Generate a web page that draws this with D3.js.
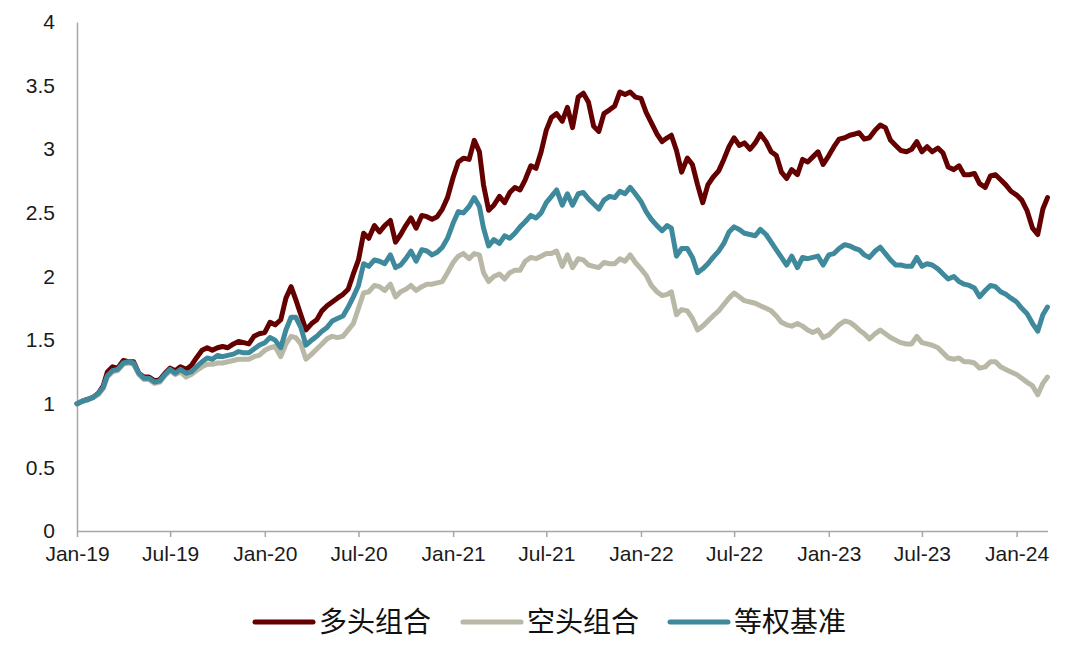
<!DOCTYPE html>
<html><head><meta charset="utf-8">
<script src="https://cdn.jsdelivr.net/npm/d3@7"></script>
<style>body{margin:0;background:#fff}svg{display:block}</style>
</head><body><svg id="c" width="1080" height="653"></svg>
<script>
const dates = [
"2019-01-01","2019-01-11","2019-01-21","2019-02-01","2019-02-11","2019-02-21","2019-03-01","2019-03-11","2019-03-21","2019-04-01","2019-04-11","2019-04-21",
"2019-05-01","2019-05-11","2019-05-21","2019-06-01","2019-06-11","2019-06-21","2019-07-01","2019-07-11","2019-07-21","2019-08-01","2019-08-11","2019-08-21",
"2019-09-01","2019-09-11","2019-09-21","2019-10-01","2019-10-11","2019-10-21","2019-11-01","2019-11-11","2019-11-21","2019-12-01","2019-12-11","2019-12-21",
"2020-01-01","2020-01-11","2020-01-21","2020-02-01","2020-02-11","2020-02-21","2020-03-01","2020-03-11","2020-03-21","2020-04-01","2020-04-11","2020-04-21",
"2020-05-01","2020-05-11","2020-05-21","2020-06-01","2020-06-11","2020-06-21","2020-07-01","2020-07-11","2020-07-21","2020-08-01","2020-08-11","2020-08-21",
"2020-09-01","2020-09-11","2020-09-21","2020-10-01","2020-10-11","2020-10-21","2020-11-01","2020-11-11","2020-11-21","2020-12-01","2020-12-11","2020-12-21",
"2021-01-01","2021-01-11","2021-01-21","2021-02-01","2021-02-11","2021-02-21","2021-03-01","2021-03-11","2021-03-21","2021-04-01","2021-04-11","2021-04-21",
"2021-05-01","2021-05-11","2021-05-21","2021-06-01","2021-06-11","2021-06-21","2021-07-01","2021-07-11","2021-07-21","2021-08-01","2021-08-11","2021-08-21",
"2021-09-01","2021-09-11","2021-09-21","2021-10-01","2021-10-11","2021-10-21","2021-11-01","2021-11-11","2021-11-21","2021-12-01","2021-12-11","2021-12-21",
"2022-01-01","2022-01-11","2022-01-21","2022-02-01","2022-02-11","2022-02-21","2022-03-01","2022-03-11","2022-03-21","2022-04-01","2022-04-11","2022-04-21",
"2022-05-01","2022-05-11","2022-05-21","2022-06-01","2022-06-11","2022-06-21","2022-07-01","2022-07-11","2022-07-21","2022-08-01","2022-08-11","2022-08-21",
"2022-09-01","2022-09-11","2022-09-21","2022-10-01","2022-10-11","2022-10-21","2022-11-01","2022-11-11","2022-11-21","2022-12-01","2022-12-11","2022-12-21",
"2023-01-01","2023-01-11","2023-01-21","2023-02-01","2023-02-11","2023-02-21","2023-03-01","2023-03-11","2023-03-21","2023-04-01","2023-04-11","2023-04-21",
"2023-05-01","2023-05-11","2023-05-21","2023-06-01","2023-06-11","2023-06-21","2023-07-01","2023-07-11","2023-07-21","2023-08-01","2023-08-11","2023-08-21",
"2023-09-01","2023-09-11","2023-09-21","2023-10-01","2023-10-11","2023-10-21","2023-11-01","2023-11-11","2023-11-21","2023-12-01","2023-12-11","2023-12-21",
"2024-01-01","2024-01-11","2024-01-21","2024-02-01","2024-02-11","2024-02-21","2024-03-01"
];

// 多头组合
const longValues = [
1.00,1.02,1.035, 1.05,1.08,1.14, 1.25,1.29,1.28, 1.34,1.33,1.33,
1.24,1.21,1.21, 1.18,1.19,1.24, 1.28,1.26,1.29, 1.27,1.30,1.36,
1.42,1.44,1.42, 1.44,1.45,1.44, 1.47,1.49,1.48, 1.47,1.53,1.55,
1.56,1.64,1.62, 1.66,1.83,1.92, 1.82,1.70,1.58, 1.63,1.66,1.73,
1.77,1.80,1.83, 1.86,1.90,2.02, 2.13,2.34,2.30, 2.40,2.35,2.40,
2.44,2.27,2.33, 2.40,2.46,2.38, 2.48,2.47,2.45, 2.47,2.53,2.62,
2.78,2.90,2.93, 2.92,3.07,2.98, 2.72,2.52,2.56, 2.63,2.58,2.66,
2.70,2.68,2.76, 2.87,2.85,2.98, 3.15,3.25,3.28, 3.22,3.33,3.17,
3.41,3.44,3.37, 3.18,3.14,3.28, 3.31,3.34,3.45, 3.43,3.45,3.41,
3.40,3.29,3.21, 3.12,3.06,3.09, 3.11,2.99,2.82, 2.93,2.88,2.72,
2.58,2.72,2.78, 2.83,2.92,3.02, 3.09,3.03,3.05, 3.00,3.05,3.12,
3.06,2.98,2.95, 2.82,2.77,2.84, 2.80,2.92,2.90, 2.94,2.98,2.88,
2.95,3.02,3.08, 3.09,3.11,3.12, 3.13,3.08,3.09, 3.15,3.19,3.17,
3.07,3.03,2.99, 2.98,3.00,3.06, 2.98,3.02,2.98, 3.01,2.97,2.86,
2.84,2.87,2.80, 2.80,2.81,2.73, 2.70,2.79,2.80, 2.76,2.72,2.67,
2.64,2.60,2.52, 2.38,2.33,2.53, 2.62
];

// 空头组合
const shortValues = [
1.00,1.02,1.03, 1.05,1.07,1.12, 1.21,1.25,1.26, 1.31,1.32,1.31,
1.23,1.19,1.19, 1.16,1.17,1.22, 1.26,1.23,1.25, 1.21,1.23,1.26,
1.29,1.31,1.31, 1.32,1.32,1.33, 1.34,1.35,1.35, 1.35,1.37,1.38,
1.42,1.44,1.45, 1.37,1.47,1.53, 1.52,1.47,1.35, 1.39,1.43,1.47,
1.51,1.53,1.52, 1.53,1.58,1.63, 1.75,1.87,1.88, 1.93,1.92,1.89,
1.94,1.84,1.88, 1.90,1.93,1.89, 1.92,1.94,1.94, 1.95,1.96,2.03,
2.11,2.16,2.18, 2.14,2.18,2.17, 2.03,1.96,2.00, 2.02,1.98,2.03,
2.05,2.05,2.12, 2.15,2.14,2.16, 2.18,2.18,2.20, 2.08,2.17,2.07,
2.14,2.13,2.09, 2.08,2.07,2.11, 2.10,2.10,2.14, 2.12,2.17,2.11,
2.06,2.01,1.93, 1.88,1.85,1.86, 1.88,1.70,1.74, 1.73,1.67,1.58,
1.61,1.65,1.69, 1.73,1.78,1.83, 1.87,1.84,1.81, 1.80,1.79,1.77,
1.75,1.73,1.69, 1.64,1.62,1.61, 1.63,1.61,1.58, 1.56,1.58,1.52,
1.54,1.58,1.62, 1.65,1.64,1.61, 1.58,1.55,1.51, 1.55,1.58,1.55,
1.52,1.50,1.48, 1.47,1.47,1.53, 1.48,1.47,1.46, 1.44,1.40,1.36,
1.35,1.36,1.33, 1.33,1.32,1.28, 1.29,1.33,1.33, 1.29,1.27,1.25,
1.23,1.20,1.17, 1.14,1.07,1.16, 1.21
];

// 等权基准
const benchValues = [
1.00,1.02,1.03, 1.05,1.08,1.13, 1.22,1.26,1.27, 1.32,1.33,1.32,
1.24,1.20,1.20, 1.17,1.18,1.23, 1.27,1.24,1.27, 1.24,1.25,1.29,
1.33,1.36,1.35, 1.38,1.37,1.38, 1.39,1.41,1.40, 1.40,1.43,1.46,
1.48,1.52,1.50, 1.44,1.58,1.68, 1.68,1.60,1.46, 1.50,1.53,1.57,
1.60,1.65,1.67, 1.69,1.76,1.84, 1.93,2.10,2.08, 2.13,2.12,2.10,
2.17,2.07,2.09, 2.14,2.20,2.12, 2.21,2.20,2.17, 2.19,2.23,2.30,
2.42,2.51,2.50, 2.55,2.62,2.55, 2.38,2.24,2.29, 2.26,2.32,2.30,
2.34,2.39,2.43, 2.48,2.46,2.50, 2.58,2.63,2.68, 2.56,2.65,2.56,
2.65,2.66,2.61, 2.57,2.53,2.60, 2.63,2.62,2.67, 2.65,2.70,2.65,
2.59,2.51,2.45, 2.40,2.36,2.40, 2.38,2.16,2.22, 2.22,2.15,2.03,
2.06,2.10,2.15, 2.20,2.26,2.35, 2.39,2.37,2.34, 2.33,2.32,2.37,
2.33,2.27,2.21, 2.15,2.09,2.16, 2.07,2.15,2.14, 2.15,2.16,2.09,
2.17,2.18,2.22, 2.25,2.24,2.22, 2.21,2.17,2.15, 2.20,2.23,2.18,
2.13,2.09,2.09, 2.08,2.08,2.15, 2.08,2.10,2.09, 2.06,2.02,1.98,
2.00,1.96,1.94, 1.93,1.91,1.84, 1.89,1.93,1.92, 1.88,1.86,1.83,
1.80,1.75,1.71, 1.63,1.57,1.70, 1.76
];

const seriesNames = ["多头组合", "空头组合", "等权基准"];
const seriesColors = ["#650000", "#b9b8a7", "#3e8a9c"];
const yTicks = [0, 0.5, 1, 1.5, 2, 2.5, 3, 3.5, 4];
const xTickLabels = ["Jan-19","Jul-19","Jan-20","Jul-20","Jan-21","Jul-21","Jan-22","Jul-22","Jan-23","Jul-23","Jan-24"];

const parse = d3.timeParse("%Y-%m-%d");
const D = dates.map(parse);
const svg = d3.select("#c");
svg.append("rect").attr("width",1080).attr("height",653).attr("fill","#fff");

const x = d3.scaleTime().domain([parse("2019-01-01"), parse("2024-03-01")]).range([77, 1047.5]);
const y = d3.scaleLinear().domain([0, 4]).range([531, 22]);

const font = "'Liberation Sans', Arial, sans-serif";

// Y axis
const yAxis = svg.append("g").attr("transform","translate(77,0)")
  .call(d3.axisLeft(y).tickValues(yTicks).tickSize(0).tickPadding(22).tickFormat(d3.format("")));
yAxis.select(".domain").attr("stroke","#a6a6a6").attr("stroke-width",1.5);
yAxis.selectAll("text").attr("font-family",font).attr("font-size",21).attr("fill","#1a1a1a");

// X axis
const xTickDates = xTickLabels.map(s => d3.timeParse("%b-%y")(s));
const xAxis = svg.append("g").attr("transform","translate(0,531)")
  .call(d3.axisBottom(x).tickValues(xTickDates).tickSize(6).tickSizeOuter(0).tickPadding(9)
    .tickFormat((d,i) => xTickLabels[i]));
xAxis.select(".domain").attr("stroke","#a6a6a6").attr("stroke-width",1.5);
xAxis.selectAll(".tick line").attr("stroke","#a6a6a6").attr("stroke-width",1.5);
xAxis.selectAll("text").attr("font-family",font).attr("font-size",21).attr("fill","#1a1a1a");

// Lines
const allSeries = [longValues, shortValues, benchValues];
const line = d3.line().x((d,i) => x(D[i])).y(d => y(d));
allSeries.forEach((vals, k) => {
  svg.append("path").datum(vals)
    .attr("d", line).attr("fill","none")
    .attr("stroke", seriesColors[k]).attr("stroke-width", 5)
    .attr("stroke-linejoin","round").attr("stroke-linecap","round");
});

// Legend
const legendX = [255, 463, 670];
const lg = svg.append("g");
seriesNames.forEach((name, k) => {
  const g = lg.append("g").attr("transform", `translate(${legendX[k]},622)`);
  g.append("line").attr("x1",0).attr("x2",58).attr("y1",0).attr("y2",0)
    .attr("stroke", seriesColors[k]).attr("stroke-width",5).attr("stroke-linecap","round");
  g.append("text").attr("x",64).attr("y",10).text(name)
    .attr("font-family","'Noto Sans CJK SC', sans-serif").attr("font-size",28).attr("fill","#111");
});
</script>
</body></html>
